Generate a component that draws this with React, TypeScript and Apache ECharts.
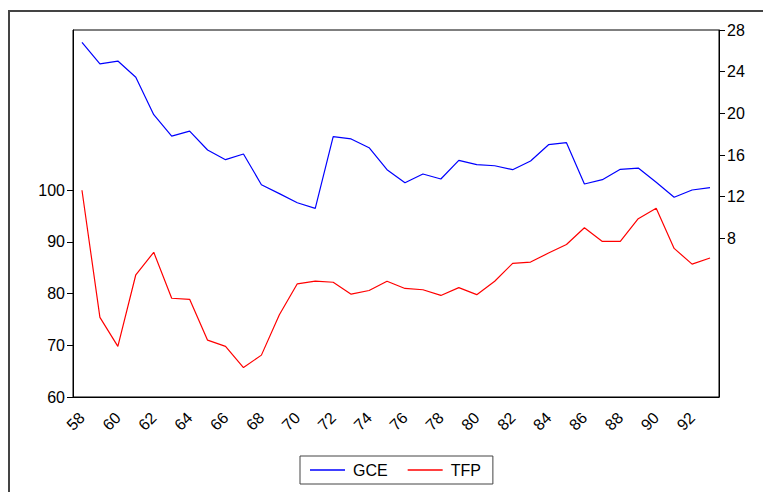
import React, { useEffect, useRef } from "react";
import * as echarts from "echarts";

const years = [
  "58", "59", "60", "61", "62", "63", "64", "65", "66", "67", "68", "69",
  "70", "71", "72", "73", "74", "75", "76", "77", "78", "79", "80", "81",
  "82", "83", "84", "85", "86", "87", "88", "89", "90", "91", "92", "93",
];

const gce = [
  26.82, 24.74, 25.02, 23.46, 19.87, 17.82, 18.3, 16.48, 15.55, 16.1, 13.15, 12.29,
  11.42, 10.88, 17.76, 17.54, 16.7, 14.59, 13.34, 14.18, 13.7, 15.49, 15.07, 14.97,
  14.59, 15.42, 16.99, 17.18, 13.22, 13.63, 14.63, 14.75, 13.38, 11.94, 12.64, 12.86,
];

const tfp = [
  100.0, 75.4, 69.8, 83.65, 88.0, 79.1, 78.9, 71.0, 69.8, 65.7, 68.1, 75.9,
  81.9, 82.4, 82.2, 79.9, 80.6, 82.4, 81.0, 80.75, 79.65, 81.15, 79.8, 82.4,
  85.85, 86.1, 87.85, 89.5, 92.75, 90.1, 90.1, 94.5, 96.5, 88.75, 85.7, 86.9,
];

const leftTicks = [60, 70, 80, 90, 100];
const rightTicks = [8, 12, 16, 20, 24, 28];

const FONT = "'Liberation Sans', Arial, sans-serif";

export default function App() {
  const ref = useRef<HTMLDivElement>(null);

  useEffect(() => {
    if (!ref.current) return;
    const chart = echarts.init(ref.current, undefined, { renderer: "svg" });
    chart.setOption({
      animation: false,
      backgroundColor: "#fff",
      textStyle: { fontFamily: FONT },
      grid: {
        left: 73,
        top: 30,
        right: 44,
        bottom: 95,
        containLabel: false,
        outerBoundsMode: "none",
        show: true,
        borderColor: "#000",
        borderWidth: 1,
      },
      legend: {
        data: ["GCE", "TFP"],
        left: 300,
        top: 456,
        padding: [6, 12, 6, 10],
        icon: "rect",
        itemWidth: 35,
        itemHeight: 1.5,
        itemGap: 20,
        borderColor: "#444",
        borderWidth: 1,
        textStyle: { fontFamily: FONT, fontSize: 16, color: "#000", padding: [0, 0, 0, 3] },
      },
      xAxis: {
        type: "category",
        data: years,
        boundaryGap: true,
        axisLine: { onZero: false, lineStyle: { color: "#000", width: 1 } },
        axisTick: { interval: 0, length: 6, lineStyle: { color: "#000" } },
        axisLabel: {
          interval: 1,
          rotate: 45,
          margin: 18,
          fontSize: 16,
          fontFamily: FONT,
          color: "#000",
        },
        splitLine: { show: false },
      },
      yAxis: [
        {
          type: "value",
          position: "left",
          min: 60,
          max: 131,
          axisLine: { show: true, onZero: false, lineStyle: { color: "#000" } },
          axisTick: {
            show: true,
            length: 6,
            customValues: leftTicks,
            lineStyle: { color: "#000" },
          },
          axisLabel: {
            customValues: leftTicks,
            fontSize: 16,
            fontFamily: FONT,
            color: "#000",
            margin: 8,
          },
          splitLine: { show: false },
        },
        {
          type: "value",
          position: "right",
          min: -7.23,
          max: 28,
          axisLine: { show: true, onZero: false, lineStyle: { color: "#000" } },
          axisTick: {
            show: true,
            length: 6,
            customValues: rightTicks,
            lineStyle: { color: "#000" },
          },
          axisLabel: {
            customValues: rightTicks,
            fontSize: 16,
            fontFamily: FONT,
            color: "#000",
            margin: 8,
          },
          splitLine: { show: false },
        },
      ],
      series: [
        {
          name: "GCE",
          type: "line",
          yAxisIndex: 1,
          data: gce,
          symbol: "none",
          lineStyle: { color: "#0000ff", width: 1.2 },
          itemStyle: { color: "#0000ff" },
        },
        {
          name: "TFP",
          type: "line",
          yAxisIndex: 0,
          data: tfp,
          symbol: "none",
          lineStyle: { color: "#ff0000", width: 1.2 },
          itemStyle: { color: "#ff0000" },
        },
      ],
      graphic: [
        {
          type: "rect",
          silent: true,
          shape: { x: 9, y: 11, width: 900, height: 700 },
          style: { fill: "none", stroke: "#444", lineWidth: 2 },
        },
      ],
    });
    return () => chart.dispose();
  }, []);

  return (
    <div
      ref={ref}
      style={{ position: "fixed", left: 0, top: 0, width: 763, height: 492 }}
    />
  );
}
